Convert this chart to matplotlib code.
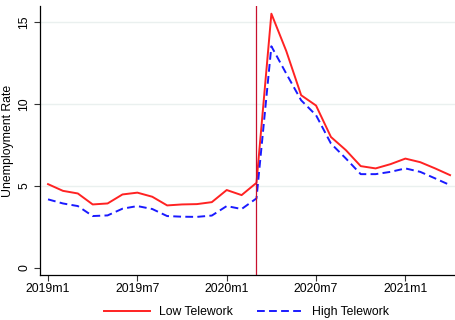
import numpy as np
import matplotlib
matplotlib.use("Agg")
import matplotlib.pyplot as plt

plt.rcParams['font.family'] = ['Liberation Sans', 'DejaVu Sans']

# monthly index 0 = 2019m1 ... 27 = 2021m4
months = np.arange(28)
low_telework = [5.12, 4.71, 4.55, 3.88, 3.94, 4.49, 4.60, 4.35, 3.82, 3.88,
                3.90, 4.02, 4.76, 4.45, 5.20, 15.53, 13.25, 10.55, 9.92, 8.00,
                7.20, 6.22, 6.08, 6.34, 6.68, 6.46, 6.08, 5.67]
high_telework = [4.19, 3.94, 3.78, 3.17, 3.21, 3.62, 3.78, 3.60, 3.17, 3.13,
                 3.12, 3.20, 3.78, 3.60, 4.25, 13.54, 11.87, 10.24, 9.33, 7.60,
                 6.69, 5.73, 5.73, 5.87, 6.08, 5.87, 5.47, 5.06]
xtick_pos = [0, 6, 12, 18, 24]
xtick_labels = ['2019m1', '2019m7', '2020m1', '2020m7', '2021m1']
covid_month = 14  # 2020m3

fig = plt.figure(figsize=(4.56, 3.2), dpi=100)
ax = fig.add_axes([40 / 456, 1 - 275 / 320, 416 / 456, 269 / 320])

for yv in [5, 10, 15]:
    ax.axhline(yv, color='#eaf0ef', linewidth=1.0, zorder=0)

ax.plot(months, low_telework, color='#ff2222', linewidth=1.4, label='Low Telework')
ax.plot(months, high_telework, color='#1a1aff', linewidth=1.4,
        linestyle=(0, (4, 2.2)), label='High Telework')
ax.axvline(covid_month, color='#c8102e', linewidth=0.9)

ax.set_xlim(-0.54, 27.4)
ax.set_ylim(-0.43, 16.0)
ax.set_xticks(xtick_pos)
ax.set_xticklabels(xtick_labels, fontsize=8.8)
ax.set_yticks([0, 5, 10, 15])
ax.set_yticklabels(['0', '5', '10', '15'], fontsize=8.8, rotation=90, va='center')
ax.tick_params(direction='out', length=4, width=0.8, color='#333333')
ax.tick_params(axis='x', pad=2)
ax.tick_params(axis='y', pad=3)
ax.set_ylabel('Unemployment Rate', fontsize=8.8)
ax.yaxis.set_label_coords(-0.062, 0.5)

ax.spines['top'].set_visible(False)
ax.spines['right'].set_visible(False)
ax.spines['left'].set_linewidth(0.9)
ax.spines['bottom'].set_linewidth(0.9)

fig.legend(loc='lower center', bbox_to_anchor=(0.54, -0.028), ncol=2,
           frameon=False, fontsize=8.8, handlelength=3.8, handletextpad=0.7,
           columnspacing=2.0)

fig.savefig('out.png', dpi=100)
